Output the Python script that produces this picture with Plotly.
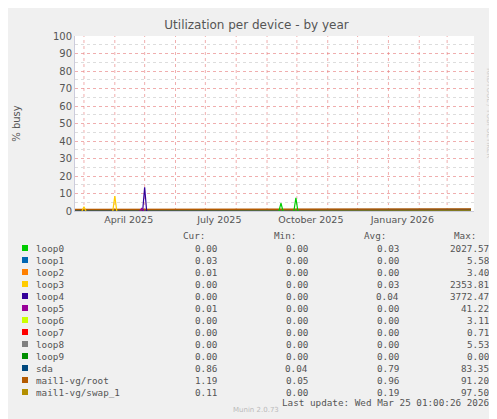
import plotly.graph_objects as go
import datetime as dt

# baseline series (monthly samples)
base_dates = ["2025-02-20","2025-03-15","2025-04-15","2025-05-15","2025-06-15","2025-07-15","2025-08-15",
              "2025-09-15","2025-10-15","2025-11-15","2025-12-15","2026-01-15","2026-02-15","2026-03-25"]
sda_vals  = [0.6,0.6,0.6,0.6,0.7,0.7,0.7,0.8,0.8,0.8,0.8,0.8,0.8,0.86]
root_vals = [0.9,0.9,0.9,0.9,1.0,1.0,1.0,1.0,1.0,1.0,0.9,1.0,1.0,1.19]
swap_vals = [0.2,0.2,0.2,0.2,0.2,0.2,0.2,0.2,0.2,0.2,0.2,0.2,0.2,0.11]

# spikes: (series, date, value)
spike_series = ["loop3","loop3","loop4","loop5","loop0","loop0"]
spike_dates  = ["2025-03-01","2025-04-01","2025-05-01","2025-04-28","2025-09-15","2025-09-30"]
spike_vals   = [2.5,8.5,13.5,1.5,4.5,7.5]

names = ["loop0","loop1","loop2","loop3","loop4","loop5","loop6","loop7","loop8","loop9","sda","mail1-vg/root","mail1-vg/swap_1"]
colors = ["#00cc00","#0066b3","#ff8000","#ffcc00","#330099","#990099","#ccff00","#ff0000","#808080","#008f00","#00487d","#b35a00","#b38f00"]
cur = ["0.00","0.03","0.01","0.00","0.00","0.01","0.00","0.00","0.00","0.00","0.86","1.19","0.11"]
mn  = ["0.00","0.00","0.00","0.00","0.00","0.00","0.00","0.00","0.00","0.00","0.04","0.05","0.00"]
avg = ["0.03","0.00","0.00","0.03","0.04","0.00","0.00","0.00","0.00","0.00","0.79","0.96","0.19"]
mx  = ["2027.57","5.58","3.40","2353.81","3772.47","41.22","3.11","0.71","5.53","0.00","83.35","91.20","97.50"]

col = dict(zip(names, colors))
fig = go.Figure()
for nm, vals in [("mail1-vg/swap_1", swap_vals), ("sda", sda_vals), ("mail1-vg/root", root_vals)]:
    fig.add_trace(go.Scatter(x=base_dates, y=vals, mode="lines", line=dict(color=col[nm], width=1.5), showlegend=False))
for s, d, v in zip(spike_series, spike_dates, spike_vals):
    c = dt.date.fromisoformat(d)
    xs = [str(c - dt.timedelta(days=2)), str(c), str(c + dt.timedelta(days=2))]
    fig.add_trace(go.Scatter(x=xs, y=[0, v, 0], mode="lines", line=dict(color=col[s], width=1.2), showlegend=False))

months = [dt.date(2025, m, 1) for m in range(3, 13)] + [dt.date(2026, m, 1) for m in range(1, 4)]
for m in months:
    fig.add_shape(type="line", x0=str(m), x1=str(m), y0=0, y1=100, xref="x", yref="y",
                  line=dict(color="rgba(230,120,120,0.6)", width=1, dash="dot"), layer="below")

fig.update_layout(
    width=497, height=419, paper_bgcolor="#f0f0f0", plot_bgcolor="#ffffff",
    margin=dict(l=67, r=31, t=28, b=216, autoexpand=False),
    font=dict(family="DejaVu Sans", size=10, color="#555"),
    title=dict(text="Utilization per device - by year", x=0.5, xanchor="center", y=0.97, font=dict(size=12, color="#555")),
    xaxis=dict(range=["2025-02-20", "2026-03-28"], showgrid=False, automargin=False,
               tickvals=["2025-04-15","2025-07-15","2025-10-15","2026-01-15"],
               ticktext=["April 2025","July 2025","October 2025","January 2026"], ticks="", tickfont=dict(size=9.5),
               showline=True, linecolor="#ccd", zeroline=False),
    yaxis=dict(range=[0, 100], dtick=10, gridcolor="rgba(230,120,120,0.6)", griddash="dot", ticks="", automargin=False,
               minor=dict(dtick=5, showgrid=True, gridcolor="#ddd", griddash="dot"),
               showline=True, linecolor="#ccd", zeroline=False, tickfont=dict(size=10),
               title=dict(text="% busy", font=dict(size=10), standoff=30)),
)

mono = "DejaVu Sans Mono"
W0, W1, H0, H1 = 67, 466, 28, 203
def px(x): return (x - W0) / (W1 - W0)
def py(y): return (H1 - y) / (H1 - H0)
def txt(x, y, t, anchor="left", size=9.3, color="#555"):
    fig.add_annotation(x=px(x), y=py(y), xref="paper", yref="paper", text=t, showarrow=False, xanchor=anchor,
                       yanchor="middle", font=dict(family=mono, size=size, color=color))

txt(199, 227, "Cur:", "right"); txt(290, 227, "Min:", "right")
txt(380, 227, "Avg:", "right"); txt(470, 227, "Max:", "right")
for i, nm in enumerate(names):
    y = 240 + i * 12
    fig.add_shape(type="rect", xref="paper", yref="paper", x0=px(14), x1=px(20), y0=py(y + 3), y1=py(y - 3),
                  fillcolor=col[nm], line=dict(width=0))
    txt(26, y, nm)
    txt(211, y, cur[i], "right"); txt(302, y, mn[i], "right")
    txt(393, y, avg[i], "right"); txt(483, y, mx[i], "right")
txt(483, 395, "Last update: Wed Mar 25 01:00:26 2026", "right")
fig.add_annotation(x=px(248), y=py(408), xref="paper", yref="paper", text="Munin 2.0.73", showarrow=False,
                   font=dict(family="DejaVu Sans", size=7, color="#bbb"))
fig.add_annotation(x=px(487), y=py(58), xref="paper", yref="paper", text="RRDTOOL / TOBI OETIKER", showarrow=False,
                   textangle=90, font=dict(family="DejaVu Sans", size=7, color="#ccc"))

fig.write_html("out.html")
